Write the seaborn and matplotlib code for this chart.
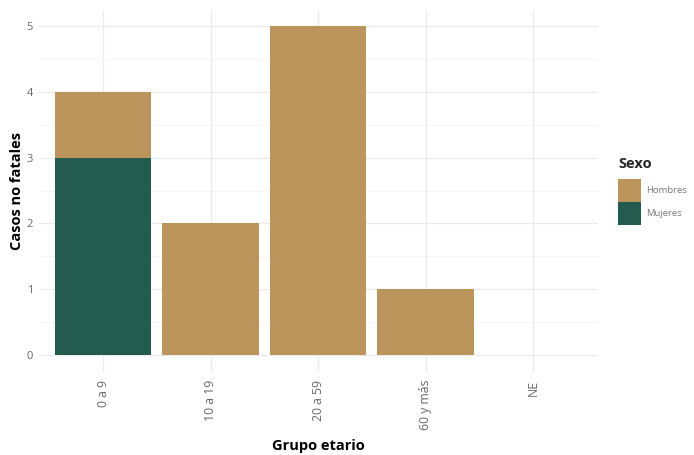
import matplotlib
matplotlib.use("Agg")
import matplotlib.pyplot as plt
import seaborn as sns
import pandas as pd
from matplotlib.patches import Patch
from matplotlib.ticker import MultipleLocator

categorias = ["0 a 9", "10 a 19", "20 a 59", "60 y más", "NE"]
hombres = [1, 2, 5, 1, 0]
mujeres = [3, 0, 0, 0, 0]
color_hombres = "#BC955C"
color_mujeres = "#235B4E"

total = [h + m for h, m in zip(hombres, mujeres)]
df = pd.DataFrame({"grupo": categorias, "total": total, "mujeres": mujeres})

sns.set_theme(style="white")
plt.rcParams["font.family"] = ["Open Sans", "DejaVu Sans"]

fig = plt.figure(figsize=(6.94, 4.55), dpi=100)
ax = fig.add_axes([0.0555, 0.1835, 0.8055, 0.7955])

sns.barplot(data=df, x="grupo", y="total", color=color_hombres, width=0.9,
            saturation=1, ax=ax, order=categorias, linewidth=0, edgecolor="none")
sns.barplot(data=df, x="grupo", y="mujeres", color=color_mujeres, width=0.9,
            saturation=1, ax=ax, order=categorias, linewidth=0, edgecolor="none")

ax.set_xlim(-0.6, 4.6)
ax.set_ylim(-0.25, 5.25)
ax.yaxis.set_major_locator(MultipleLocator(1))
ax.yaxis.set_minor_locator(MultipleLocator(0.5))
ax.grid(True, which="major", color="#EBEBEB", linewidth=0.9)
ax.grid(True, which="minor", axis="y", color="#F4F4F4", linewidth=0.6)
ax.set_axisbelow(True)
for s in ax.spines.values():
    s.set_visible(False)
ax.tick_params(axis="both", which="both", length=0, colors="#666666", labelsize=8)
ax.tick_params(axis="x", labelsize=8.8, pad=6)
ax.tick_params(axis="y", pad=4)
plt.setp(ax.get_xticklabels(), rotation=90)

ax.set_xlabel("Grupo etario", fontsize=10.5, fontweight="bold", color="black", labelpad=6)
ax.set_ylabel("Casos no fatales", fontsize=10.5, fontweight="bold", color="black", labelpad=2)

handles = [Patch(facecolor=color_hombres, edgecolor="none", label="Hombres"),
           Patch(facecolor=color_mujeres, edgecolor="none", label="Mujeres")]
leg = fig.legend(handles=handles, title="Sexo", loc="upper left",
                 bbox_to_anchor=(0.884, 0.665), frameon=False,
                 fontsize=6.8, handlelength=2.4, handleheight=3.3,
                 handletextpad=0.6, labelspacing=0.0, borderpad=0)
leg.get_title().set_fontweight("bold")
leg.get_title().set_fontsize(10.5)
leg._legend_box.align = "left"
leg._legend_box.sep = 6
for t in leg.get_texts():
    t.set_color("#777777")

fig.savefig("out.png", dpi=100)
